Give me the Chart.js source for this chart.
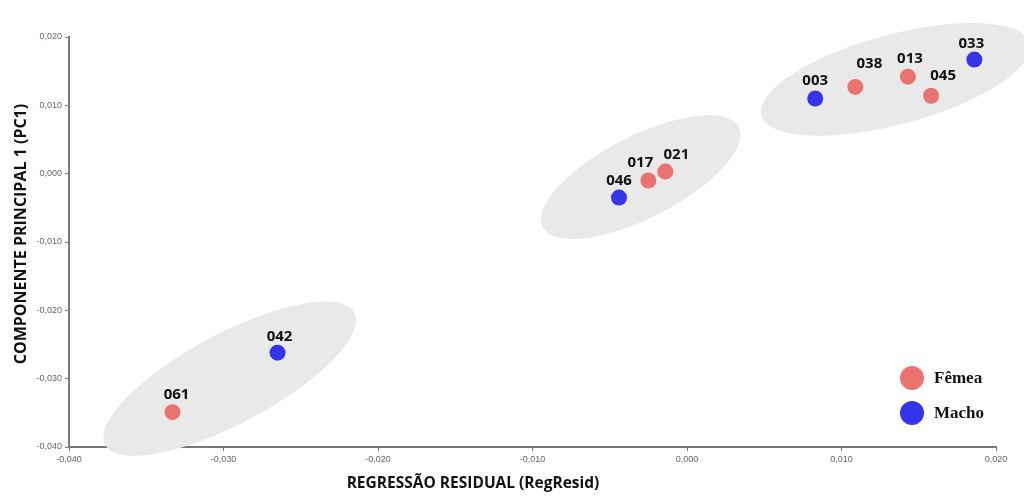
<!DOCTYPE html>
<html lang="pt">
<head>
<meta charset="utf-8">
<title>PC1 vs Regressão Residual</title>
<script src="https://cdn.jsdelivr.net/npm/chart.js@4.4.1/dist/chart.umd.min.js"></script>
<style>
  html, body { margin: 0; padding: 0; background: #ffffff; }
  #wrap { width: 1024px; height: 497px; position: relative; }
</style>
</head>
<body>
<div id="wrap"><canvas id="c" width="1024" height="497"></canvas></div>
<script>
// Specimen codes and their scores
const specimens = ['061', '042', '046', '017', '021', '003', '038', '013', '045', '033'];
const sexes     = ['F',   'M',   'M',   'F',   'F',   'M',   'F',   'F',   'F',   'M'];
const regResid  = [-0.0333, -0.0265, -0.0044, -0.0025, -0.0014, 0.0083, 0.0109, 0.0143, 0.0158, 0.0186];
const pc1       = [-0.0349, -0.0262, -0.0035, -0.0010,  0.0003, 0.0110, 0.0127, 0.0142, 0.0114, 0.0167];

// Axis ticks
const xTicks = [-0.04, -0.03, -0.02, -0.01, 0.00, 0.01, 0.02];
const yTicks = [-0.04, -0.03, -0.02, -0.01, 0.00, 0.01, 0.02];

// Legend entries
const sexNames = { F: 'Fêmea', M: 'Macho' };

// Group outlines: centre in data units
const groupCentreX = [-0.0296, -0.0030, 0.0135];
const groupCentreY = [-0.0300, -0.0005, 0.0138];

// --- styling (pixels / colours) ---
const COLORS = { F: '#e9746f', M: '#3434ea' };
const groupShape = [
  { rx: 141, ry: 45, angle: -28 },
  { rx: 110, ry: 41, angle: -27 },
  { rx: 139, ry: 45, angle: -15 }
];
const labelOffset = [
  [4, -17], [2, -16], [0, -17], [-8, -18], [11, -17],
  [0, -18], [14, -23], [2, -18], [12, -20], [-3, -16]
];

function fmt(v) {
  if (Math.abs(v) < 1e-9) v = 0;
  return v.toFixed(3).replace('.', ',');
}

const datasets = ['F', 'M'].map(s => ({
  label: sexNames[s],
  data: specimens
    .map((id, i) => ({ x: regResid[i], y: pc1[i], id: id, idx: i, s: sexes[i] }))
    .filter(p => p.s === s),
  backgroundColor: COLORS[s],
  borderColor: COLORS[s],
  pointRadius: 8,
  pointHoverRadius: 8,
  borderWidth: 0
}));

const groupsPlugin = {
  id: 'groups',
  beforeDatasetsDraw(chart) {
    const { ctx, scales: { x, y } } = chart;
    ctx.save();
    ctx.fillStyle = '#e9e9e9';
    groupCentreX.forEach((cx, i) => {
      const g = groupShape[i];
      ctx.beginPath();
      ctx.ellipse(x.getPixelForValue(cx), y.getPixelForValue(groupCentreY[i]),
                  g.rx, g.ry, g.angle * Math.PI / 180, 0, Math.PI * 2);
      ctx.fill();
    });
    ctx.restore();
  }
};

const labelsPlugin = {
  id: 'ptLabels',
  afterDatasetsDraw(chart) {
    const { ctx } = chart;
    ctx.save();
    ctx.fillStyle = '#111111';
    ctx.font = 'bold 15px "Open Sans", sans-serif';
    ctx.textAlign = 'center';
    ctx.textBaseline = 'middle';
    chart.data.datasets.forEach((ds, di) => {
      const meta = chart.getDatasetMeta(di);
      meta.data.forEach((el, j) => {
        const p = ds.data[j];
        const off = labelOffset[p.idx];
        ctx.fillText(p.id, el.x + off[0], el.y + off[1]);
      });
    });
    ctx.restore();
  }
};

const decorPlugin = {
  id: 'decor',
  afterDraw(chart) {
    const { ctx } = chart;
    ctx.save();
    // legend
    ['F', 'M'].forEach((s, i) => {
      const cy = 378 + i * 35;
      ctx.fillStyle = COLORS[s];
      ctx.beginPath();
      ctx.arc(912, cy, 12, 0, Math.PI * 2);
      ctx.fill();
      ctx.fillStyle = '#111111';
      ctx.font = 'bold 17px "Liberation Serif", "DejaVu Serif", serif';
      ctx.textAlign = 'left';
      ctx.textBaseline = 'middle';
      ctx.fillText(sexNames[s], 934, cy + 1);
    });
    // axis titles
    ctx.fillStyle = '#111111';
    ctx.textAlign = 'center';
    ctx.textBaseline = 'middle';
    ctx.font = 'bold 15.5px "Open Sans", sans-serif';
    ctx.fillText('REGRESSÃO RESIDUAL (RegResid)', 473, 484);
    ctx.font = 'bold 16px "Open Sans", sans-serif';
    ctx.translate(21, 234);
    ctx.rotate(-Math.PI / 2);
    ctx.fillText('COMPONENTE PRINCIPAL 1 (PC1)', 0, 0);
    ctx.restore();
  }
};

new Chart(document.getElementById('c'), {
  type: 'scatter',
  data: { datasets },
  plugins: [groupsPlugin, labelsPlugin, decorPlugin],
  options: {
    responsive: false,
    animation: false,
    events: [],
    layout: { padding: { left: 0, top: 37, right: 28, bottom: 0 } },
    plugins: { legend: { display: false }, tooltip: { enabled: false } },
    scales: {
      x: {
        type: 'linear',
        min: xTicks[0], max: xTicks[xTicks.length - 1],
        afterFit(scale) { scale.height = 50; },
        afterBuildTicks(scale) { scale.ticks = xTicks.map(v => ({ value: v })); },
        grid: { display: true, drawOnChartArea: false, drawTicks: true, tickLength: 4, color: '#7a7a7a' },
        border: { display: true, color: '#7a7a7a', width: 2 },
        ticks: {
          callback: v => fmt(v),
          color: '#666666',
          padding: 3,
          maxRotation: 0,
          font: { family: '"Liberation Sans", Arial, sans-serif', size: 9 }
        }
      },
      y: {
        type: 'linear',
        min: yTicks[0], max: yTicks[yTicks.length - 1],
        afterFit(scale) { scale.width = 69; },
        afterBuildTicks(scale) { scale.ticks = yTicks.map(v => ({ value: v })); },
        grid: { display: true, drawOnChartArea: false, drawTicks: true, tickLength: 4, color: '#7a7a7a' },
        border: { display: true, color: '#7a7a7a', width: 2 },
        ticks: {
          callback: v => fmt(v),
          color: '#666666',
          padding: 3,
          font: { family: '"Liberation Sans", Arial, sans-serif', size: 9 }
        }
      }
    }
  }
});
</script>
</body>
</html>
